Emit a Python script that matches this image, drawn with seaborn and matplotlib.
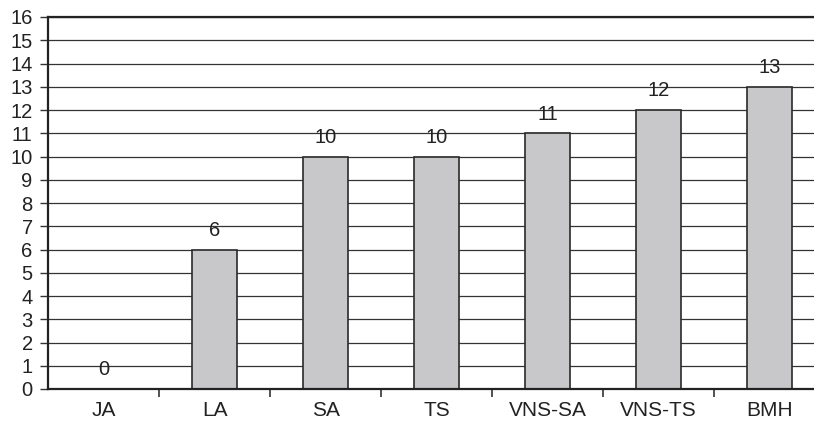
import matplotlib
matplotlib.use("Agg")
import matplotlib.pyplot as plt
import seaborn as sns
import pandas as pd

methods = ["JA", "LA", "SA", "TS", "VNS-SA", "VNS-TS", "BMH"]
scores = [0, 6, 10, 10, 11, 12, 13]
y_ticks = list(range(0, 17))

sns.set_theme(style="white")
plt.rcParams["font.family"] = ["Liberation Sans", "DejaVu Sans"]

df = pd.DataFrame({"method": methods, "score": scores})

fig = plt.figure(figsize=(8.14, 4.24), dpi=100)
W, H = 814, 424
left, right, top, bottom = 48, 825, 17, 389
ax = fig.add_axes([left / W, 1 - bottom / H, (right - left) / W, (bottom - top) / H])

sns.barplot(data=df, x="method", y="score", ax=ax, color="#c8c8ca",
            edgecolor="#2a2a2a", linewidth=1.2, width=0.4, saturation=1)

ax.set_ylim(0, 16)
ax.set_xlim(-0.5, len(methods) - 0.5)
ax.set_yticks(y_ticks)
ax.yaxis.grid(True, color="#333333", linewidth=0.9)
ax.set_axisbelow(True)
ax.set_xlabel("")
ax.set_ylabel("")

ax.spines["right"].set_visible(False)
for side in ["top", "left", "bottom"]:
    ax.spines[side].set_color("#222222")
    ax.spines[side].set_linewidth(1.6)

ax.tick_params(axis="y", which="both", left=True, length=6, width=1.0,
               color="#333333", labelsize=14.5, labelcolor="#222222", pad=5)
ax.set_xticks(range(len(methods)))
ax.set_xticklabels(methods)
ax.tick_params(axis="x", which="major", bottom=False, length=0, labelsize=15,
               labelcolor="#222222", pad=9)
ax.set_xticks([i + 0.5 for i in range(len(methods) - 1)], minor=True)
ax.tick_params(axis="x", which="minor", bottom=True, length=6, width=1.2,
               color="#333333")

for i, v in enumerate(scores):
    ax.annotate(str(v), (i, v), xytext=(0, 7), textcoords="offset points",
                ha="center", va="bottom", fontsize=14.5, color="#222222")

fig.savefig("out.png", dpi=100)
